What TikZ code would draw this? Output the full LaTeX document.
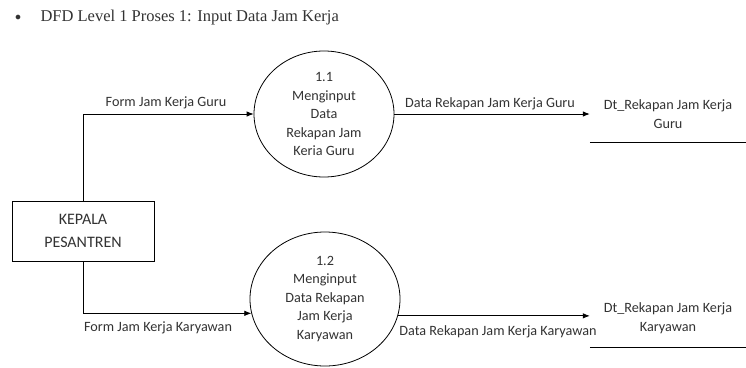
\documentclass[tikz,border=0pt]{standalone}
\usepackage{fontspec}
\setmainfont{Carlito}
\newfontfamily\titlefont{Liberation Serif}
\usetikzlibrary{shapes.geometric,arrows.meta,calc}
\begin{document}
\begin{tikzpicture}[x=1pt,y=-1pt,
  every node/.style={font=\fontsize{14.2}{18.5}\selectfont, text=black!80},
  proc/.style={draw, ellipse, line width=0.8pt, align=center, inner sep=0pt},
  ent/.style={draw, rectangle, line width=0.8pt, align=center, font=\fontsize{16}{23}\selectfont},
  store/.style={rectangle, align=center, inner sep=0pt},
  flow/.style={line width=0.8pt, -{Latex[length=7pt,width=5.5pt]}},
  lbl/.style={inner sep=1pt}]
\useasboundingbox (0,0) rectangle (746,367);
\fill[white] (0,0) rectangle (746,367);
% title
\node[anchor=center, font=\titlefont\fontsize{12}{14}\selectfont] (bul) at (18,18) {$\bullet$};
\node[anchor=west, font=\titlefont\fontsize{16.5}{18}\selectfont] (title) at (37,18) {DFD Level 1 Proses 1: Input Data Jam Kerja};
% processes
\node[proc, minimum width=140pt, minimum height=126pt] (p1) at (324,114)
  {1.1\\Menginput\\Data\\Rekapan Jam\\Keria Guru};
\node[proc, minimum width=150pt, minimum height=134pt] (p2) at (325,299)
  {1.2\\Menginput\\Data Rekapan\\Jam Kerja\\Karyawan};
% external entity
\node[ent, minimum width=142pt, minimum height=60pt, text width=130pt] (kp) at (83,231) {KEPALA\\PESANTREN};
% data stores
\node[store, minimum width=156pt, minimum height=56pt] (ds1) at (668,114) {Dt\_Rekapan Jam Kerja\\Guru};
\draw[line width=0.8pt] (ds1.south west) -- (ds1.south east);
\node[store, minimum width=156pt, minimum height=58pt] (ds2) at (668,318) {Dt\_Rekapan Jam Kerja\\Karyawan};
\draw[line width=0.8pt] (ds2.south west) -- (ds2.south east);
% flows
\draw[flow] (kp.north) |- (p1.west);
\draw[flow] (kp.south) |- (p2.191);
\draw[flow] (p1.east) -- (p1.east -| ds1.west);
\draw[flow] (p2.-13) -- (p2.-13 -| ds2.west);
% flow labels
\node[lbl] (l1) at (166,103) {Form Jam Kerja Guru};
\node[lbl] (l2) at (158,328) {Form Jam Kerja Karyawan};
\node[lbl] (l3) at (490,104) {Data Rekapan Jam Kerja Guru};
\node[lbl] (l4) at (498,332) {Data Rekapan Jam Kerja Karyawan};
\end{tikzpicture}
\end{document}
